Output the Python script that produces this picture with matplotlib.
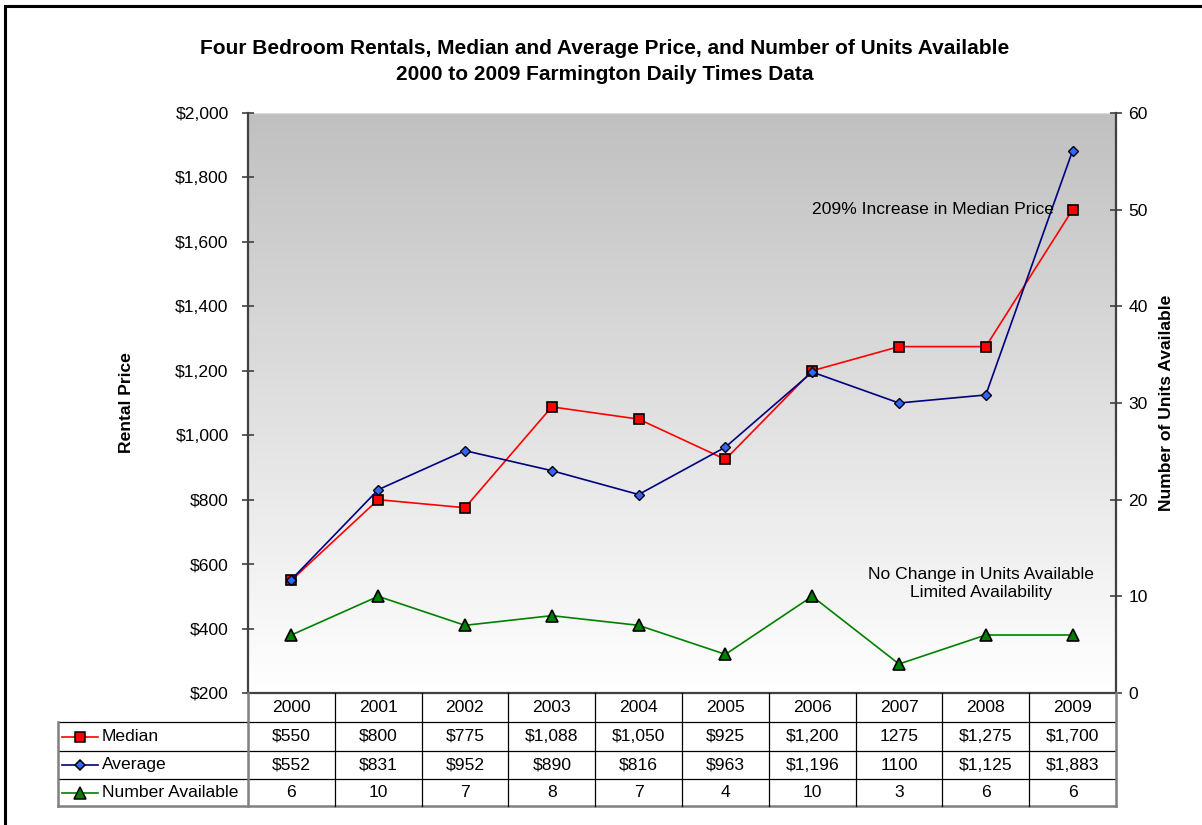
import numpy as np
import matplotlib
matplotlib.use("Agg")
import matplotlib.pyplot as plt
from matplotlib.lines import Line2D
from matplotlib.patches import Rectangle
from matplotlib.transforms import blended_transform_factory
from matplotlib.ticker import FuncFormatter

plt.rcParams['font.family'] = ['Liberation Sans', 'DejaVu Sans']

years = [2000, 2001, 2002, 2003, 2004, 2005, 2006, 2007, 2008, 2009]
median = [550, 800, 775, 1088, 1050, 925, 1200, 1275, 1275, 1700]
average = [552, 831, 952, 890, 816, 963, 1196, 1100, 1125, 1883]
units = [6, 10, 7, 8, 7, 4, 10, 3, 6, 6]
# 2007 price cells were entered without currency formatting
plain_cells = [2007]

FS = 12.6
W, H = 1202, 825
fig = plt.figure(figsize=(W / 100, H / 100), dpi=100)
fig.patch.set_facecolor('white')


def fx(px):
    return px / W


def fy(py):
    return 1 - py / H


ax_l, ax_r, ax_t, ax_b = 248, 1116, 113, 693
ax = fig.add_axes([fx(ax_l), fy(ax_b), fx(ax_r - ax_l), (ax_b - ax_t) / H])
ax2 = ax.twinx()

x = np.arange(len(years))
ax.set_xlim(-0.5, len(years) - 0.5)
ax.set_ylim(200, 2000)
ax2.set_ylim(0, 60)

# gray-to-white gradient background
grad = np.linspace(0, 1, 256).reshape(-1, 1)
ax.imshow(grad, cmap=matplotlib.colors.LinearSegmentedColormap.from_list(
    'bg', ['#c0c0c0', '#ffffff']), aspect='auto', extent=[0, 1, 0, 1],
    transform=ax.transAxes, origin='upper', zorder=0)
ax.axhline(2000, color='#d8d8d8', lw=1, zorder=1)

ax.plot(x, median, color='#ff0000', lw=1.2, marker='s', ms=7.5,
        mfc='#ff0000', mec='black', mew=1.2, zorder=4)
ax.plot(x, average, color='#000080', lw=1.2, marker='D', ms=5.5,
        mfc='#3366ff', mec='black', mew=1.0, zorder=5)
ax2.plot(x, units, color='#008000', lw=1.2, marker='^', ms=8,
         mfc='#008000', mec='black', mew=1.2, zorder=4)

spine_c = '#404040'
for a in (ax, ax2):
    for s in ('top', 'bottom'):
        a.spines[s].set_visible(False)
    a.spines['left'].set_color(spine_c)
    a.spines['right'].set_color(spine_c)
    a.spines['left'].set_linewidth(1.6)
    a.spines['right'].set_linewidth(1.6)
ax.spines['right'].set_visible(False)
ax2.spines['left'].set_visible(False)

ax.set_xticks([])
ax.set_yticks(np.arange(200, 2001, 200))
ax.yaxis.set_major_formatter(FuncFormatter(lambda v, p: f"${v:,.0f}"))
ax.tick_params(axis='y', direction='inout', length=8, width=1.2,
               color=spine_c, labelsize=FS, pad=10)
ax2.set_yticks(np.arange(0, 61, 10))
ax2.tick_params(axis='y', direction='inout', length=8, width=1.2,
                color=spine_c, labelsize=FS, pad=5)
ax.set_ylabel('Rental Price', fontsize=FS, fontweight='bold', labelpad=30)
ax2.set_ylabel('Number of Units Available', fontsize=FS, fontweight='bold',
               labelpad=8)

ax.text(8.79, 1700, '209% Increase in Median Price', ha='right', va='center',
        fontsize=FS, zorder=6)
ax.text(7.94, 540, 'No Change in Units Available\nLimited Availability',
        ha='center', va='center', multialignment='center', fontsize=FS,
        linespacing=1.25, zorder=6)

fig.text(fx(605), fy(48), 'Four Bedroom Rentals, Median and Average Price, '
         'and Number of Units Available', ha='center', va='center',
         fontsize=15, fontweight='bold')
fig.text(fx(605), fy(75), '2000 to 2009 Farmington Daily Times Data',
         ha='center', va='center', fontsize=15, fontweight='bold')

# data table under the plot
tr = blended_transform_factory(ax.transData, fig.transFigure)
rows_px = [693, 722, 751, 779, 806]
lab_l = 58
inner = dict(color='black', lw=0.9)
outer = dict(color='#808080', lw=1.8)

fig.add_artist(Line2D([fx(ax_l), fx(ax_r)], [fy(693)] * 2, color=spine_c,
                      lw=1.6))
fig.add_artist(Line2D([fx(lab_l), fx(ax_r)], [fy(722)] * 2, **inner))
for r in rows_px[2:4]:
    fig.add_artist(Line2D([fx(lab_l), fx(ax_r)], [fy(r)] * 2, **inner))
fig.add_artist(Line2D([fx(lab_l), fx(ax_r)], [fy(806)] * 2, **outer))
fig.add_artist(Line2D([fx(lab_l), fx(lab_l)], [fy(722), fy(806)], **outer))
fig.add_artist(Line2D([fx(ax_l), fx(ax_l)], [fy(693), fy(806)], **outer))
fig.add_artist(Line2D([fx(ax_r), fx(ax_r)], [fy(693), fy(806)], **outer))
for i in range(1, len(years)):
    fig.add_artist(Line2D([i - 0.5, i - 0.5], [fy(693), fy(806)],
                          transform=tr, **inner))


def money(v, yr):
    return f"{v}" if yr in plain_cells else f"${v:,.0f}"


row_text = [
    [str(y) for y in years],
    [money(v, y) for v, y in zip(median, years)],
    [money(v, y) for v, y in zip(average, years)],
    [str(v) for v in units],
]
for r, texts in enumerate(row_text):
    yc = fy((rows_px[r] + rows_px[r + 1]) / 2)
    for i, t in enumerate(texts):
        fig.text(i, yc, t, transform=tr, ha='center', va='center',
                 fontsize=FS)

keys = [
    ('Median', dict(color='#ff0000', marker='s', ms=7.5, mfc='#ff0000')),
    ('Average', dict(color='#000080', marker='D', ms=5.5, mfc='#3366ff')),
    ('Number Available', dict(color='#008000', marker='^', ms=8,
                              mfc='#008000')),
]
for r, (name, st) in enumerate(keys, start=1):
    yc = fy((rows_px[r] + rows_px[r + 1]) / 2)
    c = st.pop('color')
    fig.add_artist(Line2D([fx(62), fx(98)], [yc, yc], color=c, lw=1.2))
    fig.add_artist(Line2D([fx(80)], [yc], color=c, lw=0, mec='black',
                          mew=1.1, **st))
    fig.text(fx(102), yc, name, ha='left', va='center', fontsize=FS)

# outer chart frame
fig.add_artist(Rectangle((fx(5), -0.5), 2, fy(6) + 0.5,
                         transform=fig.transFigure, fill=False,
                         edgecolor='black', lw=2.2))

fig.savefig('out.png', dpi=100)
